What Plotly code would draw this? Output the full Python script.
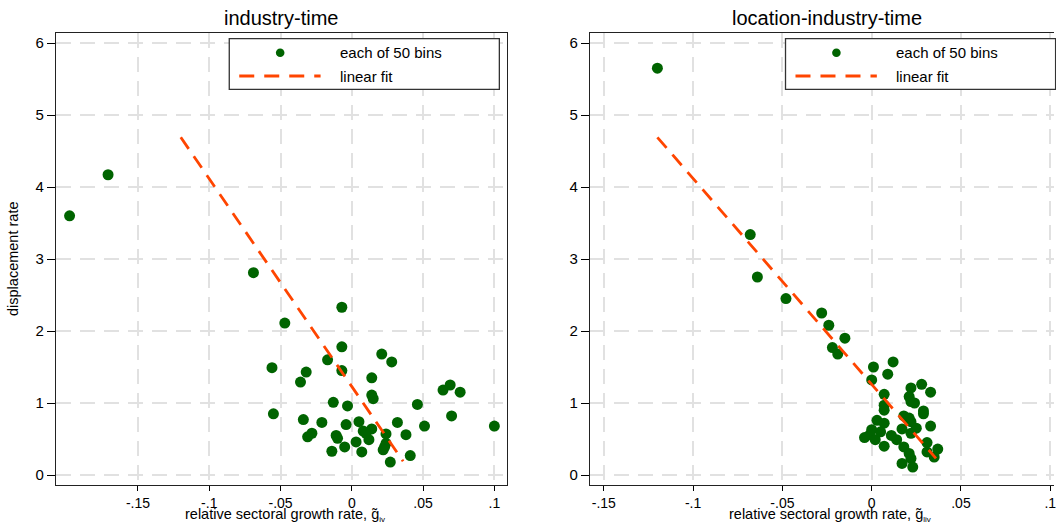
import plotly.graph_objects as go

# ---------------- data ----------------
left_x = [-0.198, -0.171, -0.069, -0.047, -0.007, -0.007, -0.017, 0.021, 0.028, -0.056,
          -0.032, -0.007, -0.036, 0.014, 0.014, 0.015, 0.064, 0.069, 0.076, -0.013,
          -0.003, 0.046, -0.055, -0.034, -0.021, -0.004, 0.005, 0.032, 0.051, 0.070,
          0.100, -0.028, -0.031, -0.011, -0.010, 0.008, 0.014, 0.010, 0.024, 0.038,
          0.012, 0.003, 0.024, 0.023, 0.022, -0.005, -0.014, 0.007, 0.041, 0.027]
left_y = [3.60, 4.17, 2.81, 2.11, 2.33, 1.78, 1.60, 1.68, 1.57, 1.49,
          1.43, 1.45, 1.29, 1.35, 1.11, 1.06, 1.18, 1.25, 1.15, 1.01,
          0.96, 0.98, 0.85, 0.77, 0.73, 0.70, 0.74, 0.73, 0.68, 0.82,
          0.68, 0.58, 0.53, 0.55, 0.51, 0.61, 0.64, 0.58, 0.57, 0.56,
          0.49, 0.46, 0.44, 0.39, 0.35, 0.39, 0.33, 0.32, 0.27, 0.18]

right_x = [-0.120, -0.068, -0.064, -0.048, -0.028, -0.024, -0.015, -0.022, -0.019, 0.001,
           0.012, 0.009, 0.000, 0.022, 0.028, 0.033, 0.007, 0.021, 0.022, 0.007,
           0.007, 0.029, 0.029, 0.003, 0.007, 0.018, 0.021, 0.022, 0.025, 0.033,
           0.017, 0.000, 0.005, -0.001, -0.004, 0.002, 0.007, 0.022, 0.014, 0.031,
           0.037, 0.018, 0.031, 0.035, 0.021, 0.022, 0.017, 0.023, 0.024, 0.011]
right_y = [5.65, 3.34, 2.75, 2.45, 2.25, 2.08, 1.90, 1.77, 1.68, 1.50,
           1.57, 1.40, 1.32, 1.21, 1.26, 1.15, 1.12, 1.09, 1.02, 0.97,
           0.90, 0.89, 0.85, 0.76, 0.72, 0.82, 0.79, 0.74, 0.65, 0.68,
           0.64, 0.63, 0.60, 0.56, 0.52, 0.49, 0.40, 0.58, 0.49, 0.45,
           0.36, 0.39, 0.32, 0.25, 0.30, 0.23, 0.16, 0.11, 1.00, 0.55]

fit_x = [-0.120, 0.036]
left_fit_y = [4.69, 0.19]
right_fit_y = [4.69, 0.23]

x_tickvals = [-0.15, -0.10, -0.05, 0.0, 0.05, 0.10]
x_ticktext = ["-.15", "-.1", "-.05", "0", ".05", ".1"]
y_tickvals = [0, 1, 2, 3, 4, 5, 6]

titles = ["industry-time", "location-industry-time"]
legend_labels = ["each of 50 bins", "linear fit"]
x_title_left = "relative sectoral growth rate, g\u0303<sub><span style='font-size:8px'>iv</span></sub>"
x_title_right = "relative sectoral growth rate, g\u0303<sub><span style='font-size:8px'>liv</span></sub>"
y_title = "displacement rate"

# ---------------- styling ----------------
W, H = 1056, 524
FONT = "Arial, Liberation Sans, sans-serif"
GREEN = "#006400"
ORANGE = "#FF4500"
GRID = "#e1e1e1"


def X(px):
    return px / W


def Y(py):
    return 1 - py / H


fig = go.Figure()

fig.add_trace(go.Scatter(x=left_x, y=left_y, mode="markers", xaxis="x", yaxis="y",
                         marker=dict(color=GREEN, size=11, line=dict(width=0)),
                         showlegend=False, name=legend_labels[0]))
fig.add_trace(go.Scatter(x=fit_x, y=left_fit_y, mode="lines", xaxis="x", yaxis="y",
                         line=dict(color=ORANGE, width=2.8, dash="14px,9px"),
                         showlegend=False, name=legend_labels[1]))
fig.add_trace(go.Scatter(x=right_x, y=right_y, mode="markers", xaxis="x2", yaxis="y2",
                         marker=dict(color=GREEN, size=11, line=dict(width=0)),
                         showlegend=False, name=legend_labels[0]))
fig.add_trace(go.Scatter(x=fit_x, y=right_fit_y, mode="lines", xaxis="x2", yaxis="y2",
                         line=dict(color=ORANGE, width=2.8, dash="14px,9px"),
                         showlegend=False, name=legend_labels[1]))

ydom = [Y(485), Y(33)]
yrange = [-10 / 72, 6 + 10 / 72]

common_x = dict(tickvals=x_tickvals, ticktext=x_ticktext, ticks="outside", ticklen=5,
                tickcolor="black", tickwidth=1.2, showline=True, linecolor="#222",
                linewidth=1.3, showgrid=True, gridcolor=GRID, gridwidth=2,
                griddash="15px,9px", zeroline=False,
                tickfont=dict(family=FONT, size=14, color="black"))
common_y = dict(tickvals=y_tickvals, ticks="outside", ticklen=8, tickcolor="black",
                tickwidth=1.2, showline=True, linecolor="#222", linewidth=1.3,
                showgrid=True, gridcolor=GRID, gridwidth=2, griddash="15px,9px",
                zeroline=False, range=yrange, domain=ydom,
                tickfont=dict(family=FONT, size=15, color="black"))

fig.update_layout(
    width=W, height=H, margin=dict(l=0, r=0, t=0, b=0),
    paper_bgcolor="white", plot_bgcolor="white", showlegend=False,
    font=dict(family=FONT, color="black"),
    xaxis=dict(domain=[X(56), X(508)], range=[-0.2076, 0.1089], anchor="y",
               mirror=True, **common_x),
    yaxis=dict(anchor="x", mirror=True, **common_y),
    xaxis2=dict(domain=[X(591), 1.0], range=[-0.1578, 0.1021], anchor="y2",
                mirror=True, ticklabeloverflow="allow", **common_x),
    yaxis2=dict(anchor="x2", mirror=False, **common_y),
)

annotations = []
shapes = []

# panel titles
for cx, t in zip([282, 829], titles):
    annotations.append(dict(text=t, x=X(cx), y=Y(18), xref="paper", yref="paper",
                            xanchor="center", yanchor="middle", showarrow=False,
                            font=dict(family=FONT, size=20, color="black")))

# x-axis titles
for cx, t in zip([286, 832], [x_title_left, x_title_right]):
    annotations.append(dict(text=t, x=X(cx), y=Y(515.3), xref="paper", yref="paper",
                            xanchor="center", yanchor="middle", showarrow=False,
                            font=dict(family=FONT, size=14.5, color="black")))

# y-axis title
annotations.append(dict(text=y_title, x=X(13), y=Y(259), xref="paper", yref="paper",
                        xanchor="center", yanchor="middle", textangle=-90,
                        showarrow=False, font=dict(family=FONT, size=14.5, color="black")))

# legends
for bx in [229.7, 787.0]:
    shapes.append(dict(type="rect", xref="paper", yref="paper",
                       x0=X(bx), x1=X(bx + 270.6), y0=Y(89.3), y1=Y(38.7),
                       line=dict(color="#333", width=1.3), fillcolor="white",
                       layer="above"))
    mcx = bx + 51
    r = 4.3
    shapes.append(dict(type="circle", xref="paper", yref="paper",
                       x0=X(mcx - r), x1=X(mcx + r), y0=Y(52.7 + r), y1=Y(52.7 - r),
                       line=dict(color=GREEN, width=0), fillcolor=GREEN, layer="above"))
    shapes.append(dict(type="line", xref="paper", yref="paper",
                       x0=X(bx + 10), x1=X(bx + 91.5), y0=Y(76), y1=Y(76),
                       line=dict(color=ORANGE, width=2.8, dash="15px,10px"),
                       layer="above"))
    for ty, lab in zip([52.7, 76], legend_labels):
        annotations.append(dict(text=lab, x=X(bx + 108.5), y=Y(ty), xref="paper",
                                yref="paper", xanchor="left", yanchor="middle",
                                showarrow=False,
                                font=dict(family=FONT, size=15, color="black")))

fig.update_layout(annotations=annotations, shapes=shapes)

fig.write_html("out.html")
